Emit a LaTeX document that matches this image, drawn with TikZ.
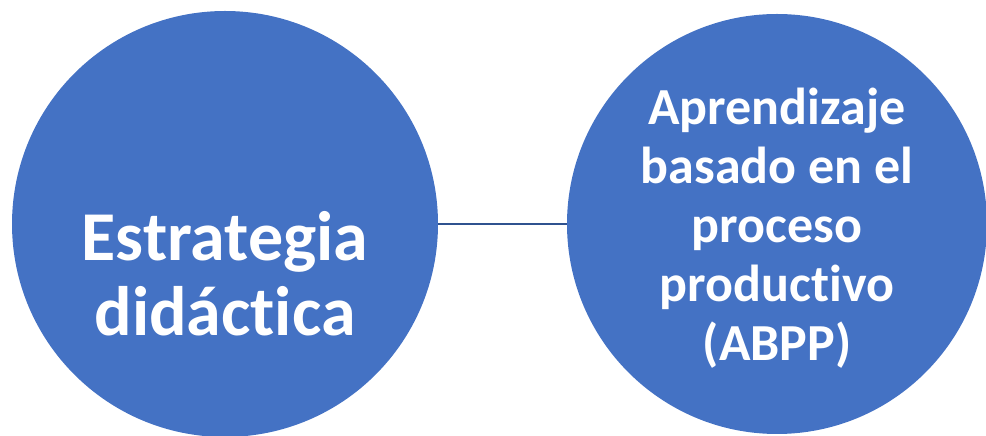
\documentclass[tikz,border=0pt]{standalone}
\usepackage{fontspec}
\setmainfont[Ligatures=NoCommon]{Carlito}
\usetikzlibrary{positioning}

\definecolor{discblue}{HTML}{4472C4}
\definecolor{linkblue}{HTML}{2F528F}
\newcommand{\nolig}{\kern0pt}

\begin{document}
\begin{tikzpicture}[
        x=1pt, y=1pt,
        disc/.style={circle, fill=discblue, minimum size=426pt, inner sep=0pt},
        lbl/.style={text=white, align=center, inner sep=0pt},
        link/.style={draw=linkblue, line width=2.4pt}
    ]
        \useasboundingbox (0,0) rectangle (986,436);

        % --- circles ---
        \node[disc] (estrategia) at (225, 212) {};
        \node[disc, minimum size=420pt] (abpp) at (777, 212) {};

        % --- texts ---
        \node[lbl, font=\bfseries\fontsize{70}{75}\selectfont] (estrategiaText)
            at ([yshift=-50pt]estrategia.center) {Estrategia\\didáct\nolig ica};
        \node[lbl, font=\bfseries\fontsize{52}{59}\selectfont] (abppText)
            at ([yshift=-4pt]abpp.center) {Aprendizaje\\basado en el\\proceso\\product\nolig ivo\\(ABPP)};

        % --- connection ---
        \draw[link] (estrategia.east) -- (abpp.west);

    \end{tikzpicture}
\end{document}
